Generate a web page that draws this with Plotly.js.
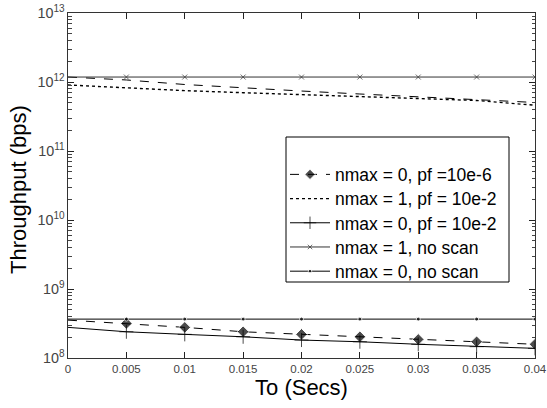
<!DOCTYPE html>
<html>
<head>
<meta charset="utf-8">
<script src="https://cdn.plot.ly/plotly-3.0.1.min.js"></script>
<style>html,body{margin:0;padding:0;background:#fff}#chart{width:547px;height:408px}</style>
</head>
<body>
<div id="chart"></div>
<script>
const xVals = [0, 0.005, 0.01, 0.015, 0.02, 0.025, 0.03, 0.035, 0.04];
const tickVals = [0, 0.005, 0.01, 0.015, 0.02, 0.025, 0.03, 0.035, 0.04];
const tickText = ["0", "0.005", "0.01", "0.015", "0.02", "0.025", "0.03", "0.035", "0.04"];
const seriesNames = [
  "nmax = 1, pf = 10e-6",
  "nmax = 0, pf =10e-6",
  "nmax = 1, pf = 10e-2",
  "nmax = 0, pf = 10e-2",
  "nmax = 1, no scan",
  "nmax = 0, no scan"
];
const n1pf6 = [1.18e12, 1.07e12, 0.92e12, 0.82e12, 0.74e12, 0.67e12, 0.61e12, 0.56e12, 0.505e12];
const n0pf6 = [3.54e8, 3.17e8, 2.78e8, 2.40e8, 2.20e8, 2.03e8, 1.86e8, 1.72e8, 1.58e8];
const n1pf2 = [0.905e12, 0.82e12, 0.75e12, 0.70e12, 0.66e12, 0.61e12, 0.58e12, 0.54e12, 0.46e12];
const n0pf2 = [2.78e8, 2.40e8, 2.20e8, 2.03e8, 1.82e8, 1.72e8, 1.58e8, 1.46e8, 1.38e8];
const n1noscan = [1.18e12, 1.18e12, 1.18e12, 1.18e12, 1.18e12, 1.18e12, 1.18e12, 1.18e12, 1.18e12];
const n0noscan = [3.66e8, 3.66e8, 3.66e8, 3.66e8, 3.66e8, 3.66e8, 3.66e8, 3.66e8, 3.66e8];

// no marker drawn at x = 0 (hidden under the axis in the original)
function sizes(s) { return xVals.map((x, i) => i === 0 ? 0 : s); }

const ys = [n1pf6, n0pf6, n1pf2, n0pf2, n1noscan, n0noscan];
const blk = '#000';
const styles = [
  {mode: 'lines', line: {color: blk, width: 1, dash: 'dash'}},
  {mode: 'lines+markers', line: {color: blk, width: 1, dash: 'dash'}, marker: {symbol: 'diamond', size: sizes(9), color: blk}},
  {mode: 'lines', line: {color: blk, width: 1.4, dash: 'dot'}},
  {mode: 'lines+markers', line: {color: blk, width: 1}, marker: {symbol: 'cross-thin-open', size: sizes(10), color: blk, line: {color: blk, width: 1}}},
  {mode: 'lines+markers', line: {color: '#333', width: 1}, marker: {symbol: 'x-thin-open', size: sizes(5), color: '#333', line: {color: '#333', width: 1}}},
  {mode: 'lines+markers', line: {color: blk, width: 1}, marker: {symbol: 'circle', size: sizes(4), color: blk}}
];
const legendIds = ['legend', 'legend2', 'legend3', 'legend4', 'legend5', 'legend6'];
const traces = ys.map((y, i) => Object.assign({
  type: 'scatter', x: xVals, y: y, name: seriesNames[i], legend: legendIds[i]
}, styles[i]));

const font = 'Liberation Sans, Arial, sans-serif';
// pixel geometry helpers for placing the legend box
const M = {l: 68, r: 12, t: 13, b: 50}, W = 547, H = 408;
const pw = W - M.l - M.r, ph = H - M.t - M.b;
const px2x = p => (p - M.l) / pw, py2y = p => (H - M.b - p) / ph;
const rowCenters = [150.3, 174.5, 198.7, 222.9, 247.1, 271.3];

const layout = {
  width: W, height: H, margin: M,
  xaxis: {
    range: [0, 0.04], tickvals: tickVals, ticktext: tickText,
    ticks: 'inside', ticklen: 6, tickwidth: 1, tickcolor: '#222', mirror: 'ticks',
    showline: true, linecolor: '#333', showgrid: false, zeroline: false,
    tickfont: {family: font, size: 11.5, color: '#444'},
    title: {text: 'To (Secs)', font: {family: font, size: 22, color: '#000'}, standoff: 4}
  },
  yaxis: {
    type: 'log', range: [8, 13], dtick: 1, exponentformat: 'power',
    ticks: 'inside', ticklen: 6, tickwidth: 1, tickcolor: '#222', mirror: 'ticks',
    showline: true, linecolor: '#333', showgrid: false,
    tickfont: {family: font, size: 11.5, color: '#444'},
    minor: {ticks: 'inside', ticklen: 3.5, tickcolor: '#444', dtick: 'D1', showgrid: false}
  },
  shapes: [{
    type: 'rect', xref: 'paper', yref: 'paper',
    x0: px2x(286), x1: px2x(509), y0: py2y(282), y1: py2y(137),
    fillcolor: '#fff', line: {color: '#000', width: 1}, layer: 'above'
  }],
  annotations: [{
    text: 'Throughput (bps)', textangle: -90, showarrow: false,
    xref: 'paper', yref: 'paper', x: 0, y: py2y(190), xanchor: 'center', yanchor: 'middle',
    xshift: -49, font: {family: font, size: 22, color: '#000'}
  }]
};
legendIds.forEach((id, i) => {
  layout[id] = {
    x: px2x(285), y: py2y(rowCenters[i]), xanchor: 'left', yanchor: 'middle',
    bgcolor: 'rgba(0,0,0,0)', borderwidth: 0, itemwidth: 40,
    font: {family: font, size: 17.5, color: '#000'}
  };
});
Plotly.newPlot('chart', traces, layout, {displayModeBar: false});
</script>
</body>
</html>
